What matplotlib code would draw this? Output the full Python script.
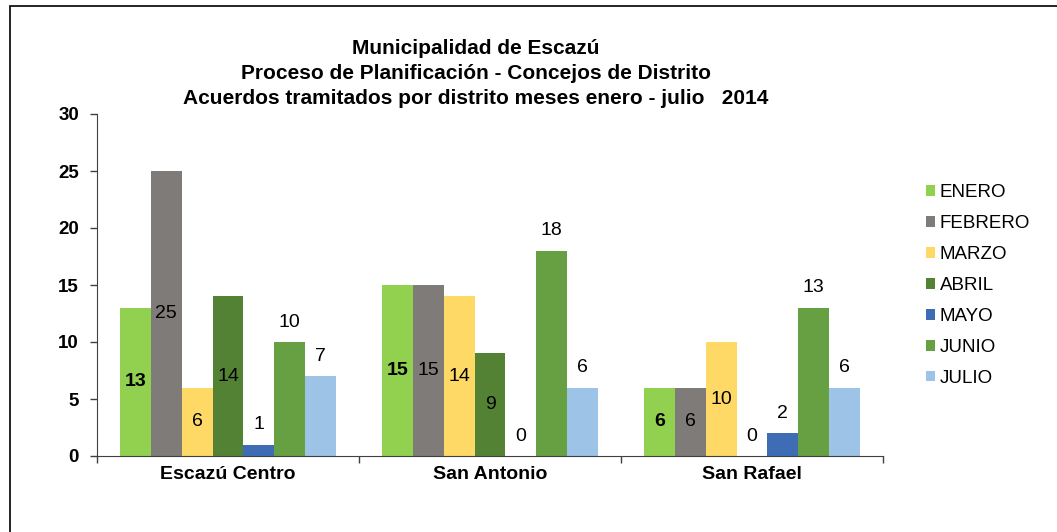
import matplotlib
matplotlib.use("Agg")
import matplotlib.pyplot as plt
from matplotlib.patches import Rectangle, Patch
import numpy as np

plt.rcParams['font.family'] = ['Liberation Sans', 'DejaVu Sans']

districts = ["Escazú Centro", "San Antonio", "San Rafael"]
months = ["ENERO", "FEBRERO", "MARZO", "ABRIL", "MAYO", "JUNIO", "JULIO"]
values = {
    "ENERO":   [13, 15, 6],
    "FEBRERO": [25, 15, 6],
    "MARZO":   [6, 14, 10],
    "ABRIL":   [14, 9, 0],
    "MAYO":    [1, 0, 2],
    "JUNIO":   [10, 18, 13],
    "JULIO":   [7, 6, 6],
}
colors = ["#92D050", "#7F7B79", "#FFD966", "#548235", "#3E6DB5", "#66A043", "#9DC3E6"]
label_inside = ["ENERO", "FEBRERO", "MARZO", "ABRIL"]
yticks = [0, 5, 10, 15, 20, 25, 30]
title_lines = ["Municipalidad de Escazú",
               "Proceso de Planificación - Concejos de Distrito",
               "Acuerdos tramitados por distrito meses enero - julio   2014"]

W, H = 1057, 532
fig = plt.figure(figsize=(W/100, H/100), dpi=100)
ax = fig.add_axes([97/W, 1-456/H, (883-97)/W, (456-114)/H])

# figure border
fig.patches.append(Rectangle((10/W, -0.1), 1.2, 1.1 - 6/H, transform=fig.transFigure,
                             fill=False, edgecolor="black", linewidth=1.2))

x = np.arange(len(districts))
bw = 0.118
n = len(months)
for i, m in enumerate(months):
    xs = x - 0.5 + (1 - n*bw)/2 + bw*(i + 0.5)
    ax.bar(xs, values[m], width=bw, color=colors[i], label=m, zorder=2)
    for xi, v in zip(xs, values[m]):
        if m in label_inside and v > 0:
            ax.text(xi, v/2, str(v), ha="center", va="center", fontsize=14,
                    fontweight="bold" if m == "ENERO" else "normal", color="black", zorder=3)
        else:
            ax.text(xi, v + 1.75, str(v), ha="center", va="center", fontsize=14,
                    color="black", zorder=3)

ax.set_xlim(-0.5, 2.5)
ax.set_ylim(0, 30)
ax.set_yticks(yticks)
ax.set_yticklabels([str(t) for t in yticks], fontsize=13.5, fontweight="bold")
ax.set_xticks(x)
ax.set_xticklabels(districts, fontsize=14, fontweight="bold")
ax.tick_params(axis="x", length=0, pad=7)
ax.tick_params(axis="y", length=5, direction="out", width=1, color="#404040", pad=8)
ax.set_xticks([-0.5, 0.5, 1.5, 2.5], minor=True)
ax.tick_params(axis="x", which="minor", length=5, direction="out", color="#404040", width=1)
for s in ["top", "right"]:
    ax.spines[s].set_visible(False)
ax.spines["left"].set_color("#404040")
ax.spines["bottom"].set_color("#404040")

for k, line in enumerate(title_lines):
    fig.text(476/W, 1 - (48 + 25.5*k)/H, line, ha="center", va="center",
             fontsize=15, fontweight="bold")

handles = [Patch(facecolor=c, edgecolor="none") for c in colors]
fig.legend(handles, months, loc="upper left", bbox_to_anchor=(918/W, 1 - 177/H),
           frameon=False, fontsize=13.5, handlelength=0.5, handleheight=0.5,
           handletextpad=0.25, labelspacing=0.74, borderaxespad=0)

fig.savefig("out.png", dpi=100)
